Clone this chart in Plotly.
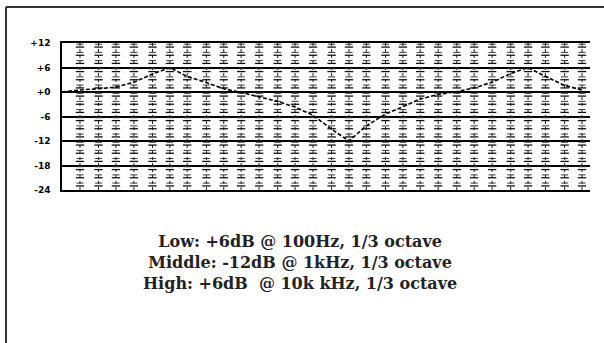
import numpy as np
import plotly.graph_objects as go

# 1/3-octave band centres (Hz) and the EQ response (dB)
freqs = [25, 31.5, 40, 50, 63, 80, 100, 125, 160, 200, 250, 315, 400, 500, 630,
         800, 1000, 1250, 1600, 2000, 2500, 3150, 4000, 5000, 6300, 8000,
         10000, 12500, 16000, 20000]
gain_db = [0.0, 0.5, 0.8, 1.2, 2.4, 4.4, 6.0, 3.8, 2.3, 0.8, -0.1, -1.2, -2.3,
           -3.7, -5.7, -9.1, -12.0, -8.3, -5.4, -3.6, -1.7, -0.6, 0.1, 1.0,
           2.4, 4.5, 6.0, 3.8, 1.6, 0.5]

db_ticks = [12, 6, 0, -6, -12, -18, -24]
db_labels = ["+12", "+6", "+0", "-6", "-12", "-18", "-24"]

notes = ["Low: +6dB @ 100Hz, 1/3 octave",
         "Middle: -12dB @ 1kHz, 1/3 octave",
         "High: +6dB  @ 10k kHz, 1/3 octave"]

W, H = 604, 343
L, R, T, B = 62, 14, 43, 153
pw, ph = W - L - R, H - T - B

def px(x):
    return (x - L) / pw

def py(y):
    return (H - B - y) / ph

fig = go.Figure()

# fader columns (skip the first band, it sits on the axis)
cols = freqs[1:]
steps = np.arange(-24, 12.01, 1.0)
cx, cy = [], []
for f in cols:
    cx += [f] * len(steps) + [None]
    cy += list(steps) + [None]
fig.add_trace(go.Scatter(x=cx, y=cy, mode="lines",
                         line=dict(color="#222", width=1, dash="dot"),
                         hoverinfo="skip", showlegend=False))

big = np.arange(-23, 12, 2.0)
small = np.arange(-22.3, 12, 2.0)
fig.add_trace(go.Scatter(x=np.repeat(cols, len(big)), y=np.tile(big, len(cols)),
                         mode="markers",
                         marker=dict(symbol="line-ew", size=6, line=dict(color="#111", width=1.3)),
                         hoverinfo="skip", showlegend=False))
fig.add_trace(go.Scatter(x=np.repeat(cols, len(small)), y=np.tile(small, len(cols)),
                         mode="markers",
                         marker=dict(symbol="line-ew", size=5, line=dict(color="#333", width=1)),
                         hoverinfo="skip", showlegend=False))

# response curve
fig.add_trace(go.Scatter(x=freqs, y=gain_db, mode="lines",
                         line=dict(color="black", width=1.6, dash="4px,2px"),
                         showlegend=False))

fig.update_xaxes(type="log", range=[np.log10(25), np.log10(20000) + 8 / 179],
                 showgrid=False, zeroline=False, showticklabels=False, ticks="",
                 showline=True, mirror=True, linecolor="black", linewidth=1.5)
fig.update_yaxes(range=[-24, 12], tickvals=db_ticks, ticktext=db_labels,
                 showgrid=True, gridcolor="black", gridwidth=1.5, zeroline=False,
                 showline=True, linecolor="black", linewidth=1.5, ticks="",
                 ticklabelstandoff=8,
                 tickfont=dict(family="DejaVu Sans", size=9, color="black", weight="bold"))

# frame: top and left edges
fig.add_shape(type="line", xref="paper", yref="paper",
              x0=px(6), x1=px(W), y0=py(7), y1=py(7), line=dict(color="#333", width=2))
fig.add_shape(type="line", xref="paper", yref="paper",
              x0=px(6), x1=px(6), y0=py(7), y1=py(H), line=dict(color="#333", width=2))

fig.add_annotation(text="<br>".join(notes), xref="paper", yref="paper",
                   x=px(300), y=py(262), xanchor="center", yanchor="middle",
                   showarrow=False, align="center",
                   font=dict(family="DejaVu Serif", size=16, color="#222", weight="bold"))

fig.update_layout(width=W, height=H, margin=dict(l=L, r=R, t=T, b=B),
                  paper_bgcolor="white", plot_bgcolor="white")

fig.write_html("out.html", config={"displayModeBar": False},
               post_script="document.body.style.margin='0';")
